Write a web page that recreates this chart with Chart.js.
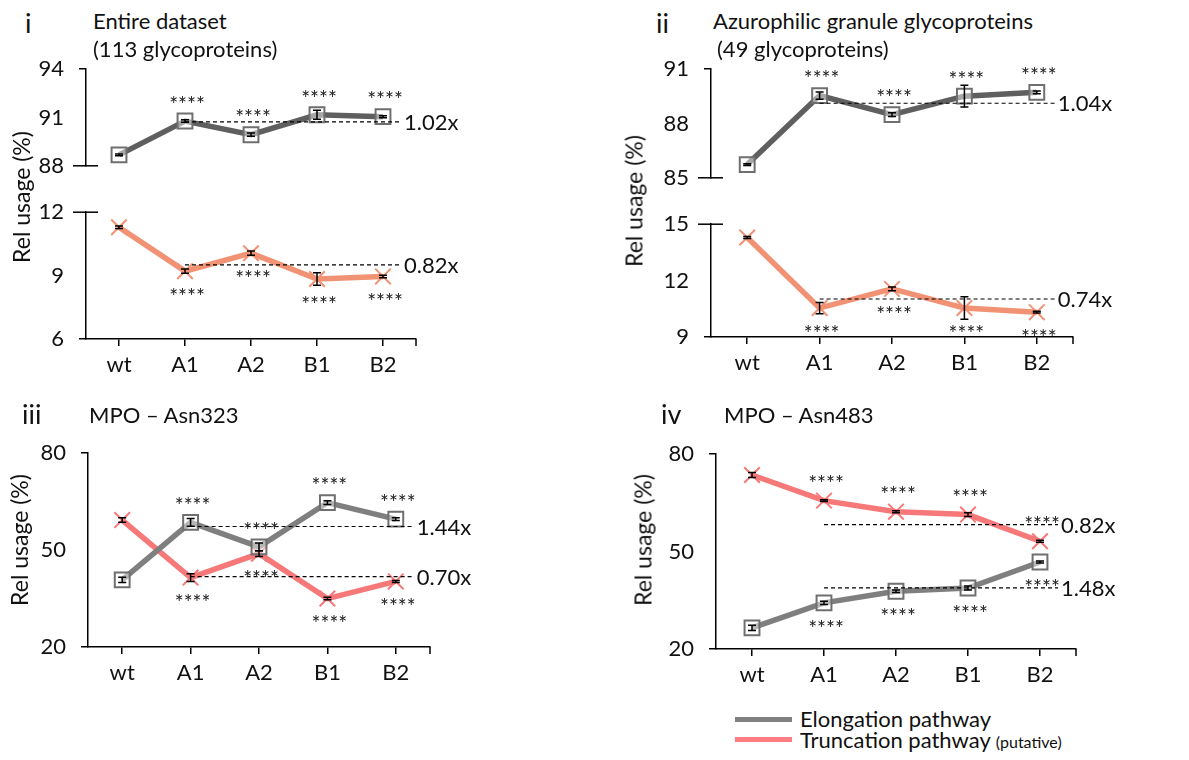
<!DOCTYPE html>
<html>
<head>
<meta charset="utf-8">
<script src="https://cdn.jsdelivr.net/npm/chart.js@4.4.1/dist/chart.umd.min.js"></script>
<style>
  html, body { margin:0; padding:0; background:#fff; }
  body { width:1189px; height:760px; position:relative; overflow:hidden; font-family:'Lato', sans-serif; color:#111; }
  .t { position:absolute; white-space:nowrap; line-height:1; transform:translateY(-50%); }
  .yt { position:absolute; white-space:nowrap; line-height:1; font-size:23px; transform:translate(-50%,-50%) rotate(-90deg); }
</style>
</head>
<body>
<script>
// ---------- data ----------
const categories = ['wt', 'A1', 'A2', 'B1', 'B2'];

// Panel i: Entire dataset (113 glycoproteins)
const p1Elong    = [88.68, 90.78, 89.93, 91.17, 91.05];
const p1ElongErr = [0.06, 0.08, 0.10, 0.28, 0.06];
const p1Trunc    = [11.29, 9.21, 10.06, 8.84, 8.96];
const p1TruncErr = [0.06, 0.10, 0.10, 0.30, 0.06];
const p1ElongRef = 90.73, p1TruncRef = 9.51;
const p1Folds    = ['1.02x', '0.82x'];
const p1UpperTicks = [88, 91, 94];
const p1LowerTicks = [6, 9, 12];

// Panel ii: Azurophilic granule glycoproteins (49 glycoproteins)
const p2Elong    = [85.73, 89.54, 88.49, 89.51, 89.72];
const p2ElongErr = [0.05, 0.20, 0.10, 0.60, 0.07];
const p2Trunc    = [14.29, 10.54, 11.56, 10.54, 10.32];
const p2TruncErr = [0.05, 0.30, 0.10, 0.60, 0.05];
const p2ElongRef = 89.12, p2TruncRef = 11.02;
const p2Folds    = ['1.04x', '0.74x'];
const p2UpperTicks = [85, 88, 91];
const p2LowerTicks = [9, 12, 15];

// Panel iii: MPO – Asn323
const p3Elong    = [40.8, 58.6, 51.0, 64.7, 59.6];
const p3ElongErr = [0.8, 1.2, 1.2, 0.6, 0.4];
const p3Trunc    = [59.3, 41.5, 48.9, 35.0, 40.3];
const p3TruncErr = [0.7, 1.2, 0.9, 0.4, 0.3];
const p3ElongRef = 57.3, p3TruncRef = 41.8;
const p3Folds    = ['1.44x', '0.70x'];
const p3Ticks    = [20, 50, 80];

// Panel iv: MPO – Asn483
const p4Elong    = [26.5, 34.2, 37.8, 38.8, 46.8];
const p4ElongErr = [0.8, 0.5, 0.4, 0.6, 0.3];
const p4Trunc    = [73.6, 65.7, 62.3, 61.4, 53.2];
const p4TruncErr = [0.8, 0.3, 0.3, 0.6, 0.3];
const p4ElongRef = 38.8, p4TruncRef = 58.3;
const p4Folds    = ['1.48x', '0.82x'];
const p4Ticks    = [20, 50, 80];

const stars = '****';

// ---------- styles ----------
const FONT = 'Lato';
const GRAY_A = '#5f5f5f', SALMON_A = '#f29274';
const GRAY_B = '#7f7f7f', RED_B = '#f67878';

function elongDS(data, errs, color, starPos) {
  return { data, errors: errs, stars: starPos, borderColor: color, borderWidth: 5.5,
    pointStyle: 'rect', pointRadius: 10.5, pointBorderColor: '#6f6f6f', pointBorderWidth: 2,
    pointBackgroundColor: 'rgba(255,255,255,0.45)', tension: 0, clip: false };
}
function truncDS(data, errs, color, starPos) {
  return { data, errors: errs, stars: starPos, borderColor: color, borderWidth: 5.5,
    pointStyle: 'crossRot', pointRadius: 11, pointBorderColor: color, pointBorderWidth: 2,
    pointBackgroundColor: color, tension: 0, clip: false };
}

const annotPlugin = {
  id: 'annot',
  afterDatasetsDraw(chart, args, opts) {
    const ctx = chart.ctx, xs = chart.scales.x, ys = chart.scales.y;
    ctx.save();
    // error bars
    chart.data.datasets.forEach(ds => {
      if (!ds.errors) return;
      ctx.strokeStyle = '#000'; ctx.lineWidth = 1.5; ctx.setLineDash([]);
      ds.data.forEach((v, i) => {
        const e = ds.errors[i];
        const x = xs.getPixelForValue(i);
        const y1 = ys.getPixelForValue(v + e), y2 = ys.getPixelForValue(v - e);
        ctx.beginPath();
        ctx.moveTo(x, y1); ctx.lineTo(x, y2);
        ctx.moveTo(x - 4, y1); ctx.lineTo(x + 4, y1);
        ctx.moveTo(x - 4, y2); ctx.lineTo(x + 4, y2);
        ctx.stroke();
      });
    });
    // reference dashed lines + fold labels
    (opts.refs || []).forEach(r => {
      const y = ys.getPixelForValue(r.value);
      const x1 = xs.getPixelForValue(1), x2 = xs.getPixelForValue(4) + 18;
      ctx.strokeStyle = '#000'; ctx.lineWidth = 1.2; ctx.setLineDash([4, 3]);
      ctx.beginPath(); ctx.moveTo(x1, y); ctx.lineTo(x2, y); ctx.stroke();
      ctx.setLineDash([]);
      ctx.fillStyle = '#111'; ctx.font = `22px ${FONT}`;
      ctx.textAlign = 'left'; ctx.textBaseline = 'middle';
      ctx.fillText(r.label, x2 + 3, y + 1);
    });
    // significance stars
    chart.data.datasets.forEach(ds => {
      if (!ds.stars) return;
      ctx.fillStyle = '#222'; ctx.font = `21px ${FONT}`;
      ctx.textAlign = 'center'; ctx.textBaseline = 'middle';
      ds.data.forEach((v, i) => {
        if (i === 0) return;
        const x = xs.getPixelForValue(i) + 2;
        const y = ys.getPixelForValue(v) + (ds.stars === 'above' ? -16 : 26);
        ctx.fillText(stars, x, y);
      });
    });
    ctx.restore();
  },
  afterDraw(chart, args, opts) {
    const ctx = chart.ctx, ca = chart.chartArea;
    ctx.save();
    ctx.strokeStyle = '#000'; ctx.lineWidth = 1.5;
    if (opts.showX) {
      ctx.beginPath(); ctx.moveTo(ca.right, ca.bottom); ctx.lineTo(ca.right, ca.bottom + 7); ctx.stroke();
    }
    if (opts.breakBottom) {
      ctx.beginPath(); ctx.moveTo(ca.left - 13, ca.bottom); ctx.lineTo(ca.left + 12, ca.bottom); ctx.stroke();
    }
    if (opts.breakTop) {
      ctx.beginPath(); ctx.moveTo(ca.left - 13, ca.top); ctx.lineTo(ca.left + 12, ca.top); ctx.stroke();
    }
    ctx.restore();
  }
};

function buildChart(cfg) {
  const YW = 70, PT = 20, PR = 100, XH = 50, PB = 15;
  const w = cfg.right - cfg.left, h = cfg.bottom - cfg.top;
  const cw = YW + w + PR, ch = PT + h + (cfg.showX ? XH : PB);
  const canvas = document.createElement('canvas');
  canvas.width = cw; canvas.height = ch;
  canvas.style.cssText = `position:absolute;left:${cfg.left - YW}px;top:${cfg.top - PT}px;width:${cw}px;height:${ch}px;`;
  document.body.appendChild(canvas);
  const nT = cfg.ticks.length;
  new Chart(canvas, {
    type: 'line',
    data: { labels: categories, datasets: cfg.datasets },
    options: {
      responsive: false, animation: false, devicePixelRatio: 1,
      layout: { padding: { top: PT, right: PR, left: 0, bottom: cfg.showX ? 0 : PB } },
      plugins: {
        legend: { display: false }, tooltip: { enabled: false },
        annot: { refs: cfg.refs, showX: cfg.showX, breakTop: cfg.breakTop, breakBottom: cfg.breakBottom }
      },
      scales: {
        x: {
          type: 'category', offset: true, display: !!cfg.showX,
          grid: { offset: false, drawOnChartArea: false, tickLength: 7, color: '#000', lineWidth: 1.5 },
          border: { color: '#000', width: 1.5 },
          ticks: { padding: 6, color: '#111', font: { family: FONT, size: 22 }, maxRotation: 0 },
          afterFit: s => { s.height = cfg.showX ? XH : 0; }
        },
        y: {
          min: cfg.ticks[0], max: cfg.ticks[nT - 1],
          afterBuildTicks: s => { s.ticks = cfg.ticks.map(v => ({ value: v })); },
          afterFit: s => { s.width = YW; },
          grid: {
            drawOnChartArea: false, tickLength: 7, lineWidth: 1.5,
            color: c => ((c.index === nT - 1 && !cfg.breakTop) || (c.index === 0 && !cfg.breakBottom)) ? '#000' : 'rgba(0,0,0,0)'
          },
          border: { display: true, color: '#000', width: 1.5 },
          ticks: { padding: 15, color: '#111', font: { family: FONT, size: 22 } }
        }
      }
    },
    plugins: [annotPlugin]
  });
}

// Panel i
buildChart({ left: 86, right: 416, top: 61, bottom: 179, ticks: p1UpperTicks, breakBottom: true,
  datasets: [elongDS(p1Elong, p1ElongErr, GRAY_A, 'above')], refs: [{ value: p1ElongRef, label: p1Folds[0] }] });
buildChart({ left: 86, right: 416, top: 204, bottom: 339, ticks: p1LowerTicks, breakTop: true, showX: true,
  datasets: [truncDS(p1Trunc, p1TruncErr, SALMON_A, 'below')], refs: [{ value: p1TruncRef, label: p1Folds[1] }] });

// Panel ii
buildChart({ left: 711, right: 1073, top: 61, bottom: 191, ticks: p2UpperTicks, breakBottom: true,
  datasets: [elongDS(p2Elong, p2ElongErr, GRAY_A, 'above')], refs: [{ value: p2ElongRef, label: p2Folds[0] }] });
buildChart({ left: 711, right: 1073, top: 216, bottom: 337, ticks: p2LowerTicks, breakTop: true, showX: true,
  datasets: [truncDS(p2Trunc, p2TruncErr, SALMON_A, 'below')], refs: [{ value: p2TruncRef, label: p2Folds[1] }] });

// Panel iii
buildChart({ left: 88, right: 430, top: 445, bottom: 647, ticks: p3Ticks, showX: true,
  datasets: [elongDS(p3Elong, p3ElongErr, GRAY_B, 'above'), truncDS(p3Trunc, p3TruncErr, RED_B, 'below')],
  refs: [{ value: p3ElongRef, label: p3Folds[0] }, { value: p3TruncRef, label: p3Folds[1] }] });

// Panel iv
buildChart({ left: 716, right: 1076, top: 446, bottom: 649, ticks: p4Ticks, showX: true,
  datasets: [elongDS(p4Elong, p4ElongErr, GRAY_B, 'below'), truncDS(p4Trunc, p4TruncErr, RED_B, 'above')],
  refs: [{ value: p4ElongRef, label: p4Folds[0] }, { value: p4TruncRef, label: p4Folds[1] }] });
</script>

<!-- panel labels and titles -->
<div class="t" style="left:25px;top:22px;font-size:27px;">i</div>
<div class="t" style="left:93px;top:21px;font-size:22px;">Entire dataset</div>
<div class="t" style="left:93px;top:49px;font-size:22px;">(113 glycoproteins)</div>
<div class="yt" style="left:21px;top:197px;">Rel usage (%)</div>

<div class="t" style="left:656px;top:22px;font-size:27px;">ii</div>
<div class="t" style="left:713px;top:21px;font-size:22px;">Azurophilic granule glycoproteins</div>
<div class="t" style="left:717px;top:49px;font-size:22px;">(49 glycoproteins)</div>
<div class="yt" style="left:634px;top:201px;">Rel usage (%)</div>

<div class="t" style="left:22px;top:413px;font-size:27px;">iii</div>
<div class="t" style="left:89px;top:415px;font-size:22px;">MPO – Asn323</div>
<div class="yt" style="left:19px;top:540px;">Rel usage (%)</div>

<div class="t" style="left:661px;top:413px;font-size:27px;">iv</div>
<div class="t" style="left:724px;top:415px;font-size:22px;">MPO – Asn483</div>
<div class="yt" style="left:643px;top:540px;">Rel usage (%)</div>

<!-- legend -->
<div style="position:absolute;left:735px;top:717px;width:57px;height:5px;background:#808080;"></div>
<div class="t" style="left:800px;top:719px;font-size:22px;">Elongation pathway</div>
<div style="position:absolute;left:735px;top:737px;width:57px;height:5px;background:#ff7c80;"></div>
<div class="t" style="left:800px;top:740px;font-size:22px;">Truncation pathway <span style="font-size:16px;">(putative)</span></div>
</body>
</html>
